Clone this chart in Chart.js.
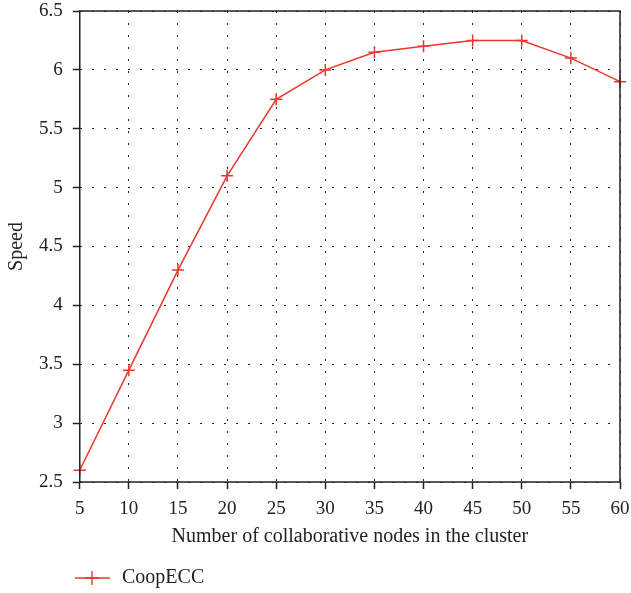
<!DOCTYPE html>
<html><head><meta charset="utf-8">
<script src="https://cdn.jsdelivr.net/npm/chart.js@4/dist/chart.umd.min.js"></script>
<style>html,body{margin:0;padding:0;background:#fff;}#wrap{width:631px;height:593px;}</style>
</head><body><div id="wrap"><canvas id="c" width="631" height="593"></canvas></div>
<script>
const nodes = [5, 10, 15, 20, 25, 30, 35, 40, 45, 50, 55, 60];
const speed = [2.6, 3.45, 4.3, 5.1, 5.75, 6.0, 6.15, 6.2, 6.25, 6.25, 6.1, 5.9];
const seriesName = 'CoopECC';
const xTitle = 'Number of collaborative nodes in the cluster';
const yTitle = 'Speed';
const RED = '#e8382d';
const FONT = "'Liberation Serif', 'DejaVu Serif', serif";

// legend icon: line with cross marker
const icon = document.createElement('canvas');
icon.width = 101; icon.height = 16;
(function(){
  const g = icon.getContext('2d');
  g.strokeStyle = RED; g.lineWidth = 1.4;
  g.beginPath(); g.moveTo(64, 8); g.lineTo(99, 8); g.stroke();
  g.beginPath(); g.moveTo(81, 1); g.lineTo(81, 15); g.moveTo(74, 8); g.lineTo(88, 8); g.stroke();
})();

const boxPlugin = {
  id: 'box',
  afterDraw(chart) {
    const a = chart.chartArea, ctx = chart.ctx;
    ctx.save(); ctx.strokeStyle = '#222'; ctx.lineWidth = 1.5;
    ctx.strokeRect(a.left, a.top, a.right - a.left, a.bottom - a.top);
    ctx.restore();
  }
};

const fmt = (v) => String(Math.round(v * 10) / 10);

new Chart(document.getElementById('c'), {
  type: 'line',
  data: {
    datasets: [{
      label: seriesName,
      data: nodes.map((x, i) => ({x: x, y: speed[i]})),
      borderColor: RED, backgroundColor: RED,
      borderWidth: 1.5, pointStyle: 'cross', pointRadius: 6, pointBorderWidth: 1.5,
      pointHoverRadius: 6, tension: 0, fill: false, clip: false
    }]
  },
  options: {
    responsive: false, animation: false,
    layout: { padding: { left: 5, right: 11, top: 11, bottom: -5 } },
    plugins: {
      legend: {
        position: 'bottom', align: 'start',
        labels: {
          usePointStyle: true, pointStyleWidth: 101, padding: 6,
          color: '#222', font: { family: FONT, size: 20 },
          generateLabels: (chart) => [{ text: seriesName, pointStyle: icon, fontColor: '#222', strokeStyle: RED, fillStyle: RED, lineWidth: 0, datasetIndex: 0 }]
        }
      },
      tooltip: { enabled: false }
    },
    scales: {
      x: {
        type: 'linear', min: 5, max: 60,
        afterFit: (s) => { s.paddingLeft = 0; s.paddingRight = 0; },
        ticks: { stepSize: 5, color: '#222', font: { family: FONT, size: 19, lineHeight: 1 }, padding: 11, callback: fmt },
        grid: { color: '#222', lineWidth: 1, drawTicks: true, tickLength: 7, tickColor: '#222', tickWidth: 1.5, tickBorderDash: [] },
        border: { display: false, dash: [2, 10] },
        title: { display: true, text: xTitle, color: '#222', font: { family: FONT, size: 20, lineHeight: 1 }, padding: { top: -3, bottom: 15 } }
      },
      y: {
        min: 2.5, max: 6.5,
        afterFit: (s) => { s.paddingTop = 0; s.paddingBottom = 0; },
        ticks: { stepSize: 0.5, color: '#222', font: { family: FONT, size: 19 }, padding: 10, callback: fmt },
        grid: { color: '#222', lineWidth: 1, drawTicks: true, tickLength: 7, tickColor: '#222', tickWidth: 1.5, tickBorderDash: [] },
        border: { display: false, dash: [2, 10] },
        title: { display: true, text: yTitle, color: '#222', font: { family: FONT, size: 20 }, padding: { top: 0, bottom: 0 } }
      }
    }
  },
  plugins: [boxPlugin]
});
</script></body></html>
